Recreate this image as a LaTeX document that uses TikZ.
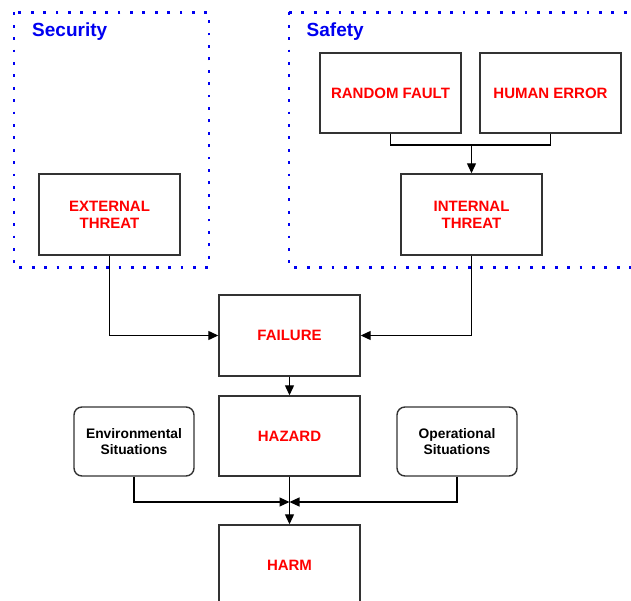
\documentclass[tikz,border=0pt]{standalone}
\usepackage{fontspec}
\setmainfont{Liberation Sans}
\usetikzlibrary{arrows.meta,positioning}
\definecolor{boxline}{HTML}{333333}
\definecolor{myred}{HTML}{FF0000}
\definecolor{myblue}{HTML}{0000F0}
\tikzset{
  stepbox/.style={draw=boxline, line width=1.4pt, minimum width=141pt, minimum height=81pt,
    inner sep=0pt, align=center, text=myred, font=\fontsize{15}{17}\selectfont\bfseries},
  sitbox/.style={draw=boxline, line width=1.4pt, rounded corners=8pt, minimum width=120pt,
    minimum height=69pt, inner sep=0pt, align=center, text=black,
    font=\fontsize{13.8}{16.5}\selectfont\bfseries},
  zone/.style={draw=myblue, line width=2.8pt, dash pattern=on 2.8pt off 9.6pt},
  zonelabel/.style={anchor=base west, inner sep=0pt, text=myblue, font=\fontsize{19}{22}\selectfont\bfseries},
  conn/.style={draw=black, line width=1.2pt},
  arr/.style={conn, -{Triangle[length=10pt,width=9pt]}}
}
\begin{document}
\begin{tikzpicture}[x=1pt,y=-1pt]
\useasboundingbox (0,0) rectangle (631,601);
\begin{scope}
\clip (0,0) rectangle (631,601);
% zones
\draw[zone] (14,12.5) rectangle (209,267.5);
\draw[zone] (289,12.5) -- (289,267.5) -- (640,267.5);
\draw[zone] (289,12.5) -- (640,12.5);
\node[zonelabel] (seclab) at (32,36.5) {Security};
\node[zonelabel] (saflab) at (306.5,36.5) {Safety};
% nodes
\node[stepbox] (ext) at (109.5,214.5) {EXTERNAL\\THREAT};
\node[stepbox, minimum height=80pt] (rf) at (390.5,93) {RANDOM FAULT};
\node[stepbox, minimum height=80pt] (he) at (550.5,93) {HUMAN ERROR};
\node[stepbox] (int) at (471.5,214.5) {INTERNAL\\THREAT};
\node[stepbox] (fail) at (289.5,335.5) {FAILURE};
\node[stepbox, minimum height=80pt] (haz) at (289.5,436) {HAZARD};
\node[stepbox, minimum height=80pt] (harm) at (289.5,565) {HARM};
\node[sitbox] (env) at (134,441.5) {Environmental\\Situations};
\node[sitbox] (op) at (457,441.5) {Operational\\Situations};
% connectors
\coordinate (m) at (471.5,145);
\draw[conn] (rf.south) |- (m) -| (he.south);
\draw[arr] (m) -- (int.north);
\draw[arr] (ext.south) |- (fail.west);
\draw[arr] (int.south) |- (fail.east);
\draw[arr] (fail.south) -- (haz.north);
\coordinate (j) at (289.5,502);
\draw[arr] (haz.south) -- (harm.north);
\draw[arr] (env.south) |- (j);
\draw[arr] (op.south) |- (j);
\end{scope}
\end{tikzpicture}
\end{document}
